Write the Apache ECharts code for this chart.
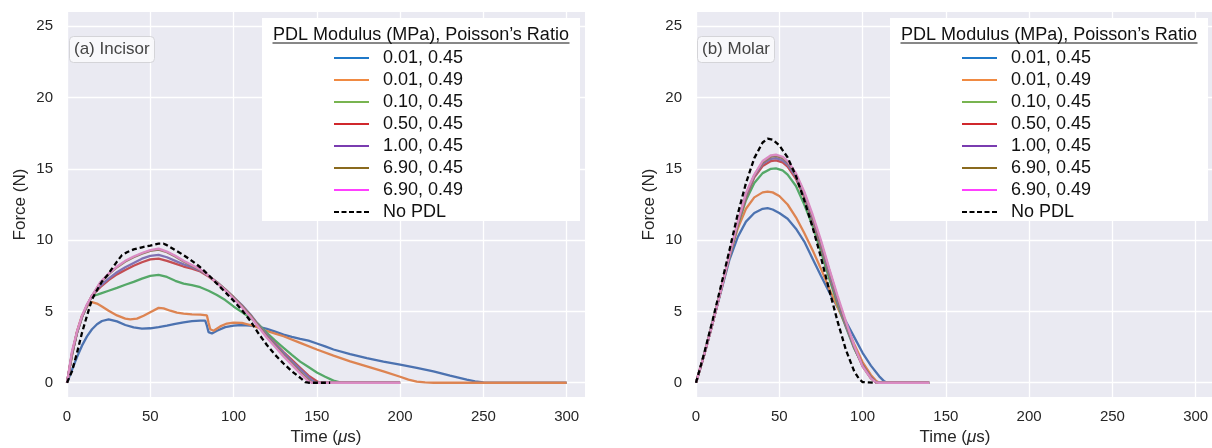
<!DOCTYPE html>
<html>
<head>
<meta charset="utf-8">
<script src="https://cdn.jsdelivr.net/npm/echarts@6/dist/echarts.min.js"></script>
<style>html,body{margin:0;padding:0;background:#fff}#c{width:1212px;height:448px}</style>
</head>
<body>
<div id="c"></div>
<script>
// ---------- data ----------
const seriesNames = ['0.01, 0.45','0.01, 0.49','0.10, 0.45','0.50, 0.45','1.00, 0.45','6.90, 0.45','6.90, 0.49','No PDL'];
const xTicks = [0,50,100,150,200,250,300];
const yTicks = [0,5,10,15,20,25];
const panelLabels = ['(a) Incisor','(b) Molar'];
const legendTitle = 'PDL Modulus (MPa), Poisson\u2019s Ratio';

// Incisor (time in µs, force in N)
const incisor_001_045 = [[0,0],[3,0.9],[6,1.8],[9,2.6],[12,3.25],[15,3.75],[18,4.1],[21,4.33],[25,4.45],[30,4.3],[35,4.05],[40,3.88],[45,3.8],[50,3.82],[55,3.9],[60,4.0],[65,4.12],[70,4.24],[75,4.32],[80,4.36],[83,4.36],[84,4.0],[85,3.55],[87,3.45],[90,3.65],[95,3.9],[100,4.0],[105,4.05],[110,4.0],[115,3.92],[120,3.78],[125,3.58],[130,3.38],[135,3.22],[140,3.08],[145,2.95],[150,2.75],[155,2.55],[160,2.33],[170,2.0],[180,1.72],[190,1.48],[200,1.27],[210,1.05],[220,0.8],[230,0.5],[240,0.22],[245,0.1],[250,0.03],[255,0],[300,0]];
const incisor_001_049 = [[0,0],[3,1.9],[6,3.6],[9,4.7],[12,5.35],[15,5.65],[18,5.55],[21,5.35],[25,5.05],[30,4.72],[35,4.5],[38,4.44],[42,4.5],[46,4.7],[50,4.95],[55,5.25],[58,5.22],[62,5.05],[66,4.92],[70,4.85],[75,4.8],[80,4.77],[84,4.72],[85,4.2],[86,3.75],[88,3.65],[92,3.95],[96,4.15],[100,4.22],[105,4.2],[110,4.05],[113,3.95],[118,3.7],[125,3.45],[130,3.26],[140,2.8],[150,2.33],[160,1.9],[170,1.5],[180,1.15],[190,0.8],[200,0.42],[205,0.22],[210,0.08],[215,0.02],[220,0],[300,0]];
const incisor_010_045 = [[0,0],[3,2.0],[6,3.5],[9,4.6],[12,5.4],[15,6.05],[20,6.25],[25,6.45],[30,6.65],[35,6.87],[40,7.07],[45,7.3],[50,7.5],[55,7.57],[60,7.42],[65,7.15],[70,6.95],[75,6.85],[80,6.7],[85,6.45],[90,6.15],[95,5.8],[100,5.35],[105,4.95],[110,4.55],[115,4.1],[120,3.5],[125,2.95],[130,2.45],[135,1.95],[140,1.48],[145,1.1],[150,0.72],[155,0.42],[160,0.15],[165,0],[200,0]];
const incisor_050_045 = [[0,0],[3,2.0],[6,3.5],[9,4.6],[12,5.4],[15,6.1],[20,6.7],[25,7.2],[30,7.6],[35,7.9],[40,8.2],[45,8.45],[50,8.65],[55,8.7],[60,8.55],[65,8.35],[70,8.15],[75,8.0],[80,7.8],[85,7.45],[90,7.0],[95,6.5],[100,5.95],[105,5.4],[110,4.75],[115,4.0],[120,3.35],[125,2.75],[130,2.15],[135,1.6],[140,1.05],[145,0.5],[150,0.1],[152,0],[200,0]];
const incisor_100_045 = [[0,0],[3,2.0],[6,3.5],[9,4.6],[12,5.4],[15,6.1],[20,6.8],[25,7.3],[30,7.75],[35,8.1],[40,8.4],[45,8.7],[50,8.9],[55,8.97],[60,8.8],[65,8.55],[70,8.3],[75,8.1],[80,7.85],[85,7.5],[90,7.05],[95,6.55],[100,6.0],[105,5.45],[110,4.8],[115,4.05],[120,3.35],[125,2.7],[130,2.1],[135,1.5],[140,0.95],[145,0.4],[148,0.1],[150,0],[200,0]];
const incisor_690_045 = [[0,0],[3,2.1],[6,3.55],[9,4.65],[12,5.45],[15,6.1],[20,7.0],[25,7.6],[30,8.1],[35,8.5],[40,8.8],[45,9.05],[50,9.25],[55,9.33],[60,9.15],[65,8.85],[70,8.5],[75,8.2],[80,7.9],[85,7.5],[90,7.05],[95,6.55],[100,6.0],[105,5.4],[110,4.75],[115,4.0],[120,3.25],[125,2.6],[130,1.95],[135,1.35],[140,0.75],[145,0.2],[147,0],[200,0]];
const incisor_690_049 = [[0,0],[3,2.2],[6,3.6],[9,4.7],[12,5.5],[15,6.1],[20,7.05],[25,7.65],[30,8.15],[35,8.55],[40,8.85],[45,9.1],[50,9.3],[55,9.4],[60,9.2],[65,8.9],[70,8.55],[75,8.25],[80,7.95],[85,7.5],[90,7.0],[95,6.5],[100,5.9],[105,5.3],[110,4.65],[115,3.9],[120,3.15],[125,2.5],[130,1.85],[135,1.25],[140,0.65],[145,0.1],[147,0],[200,0]];
const incisor_noPDL = [[0,0],[3,0.8],[6,2.1],[9,3.5],[12,4.7],[15,5.85],[18,6.5],[21,7.1],[24,7.5],[27,8.0],[30,8.5],[33,8.95],[36,9.15],[40,9.35],[45,9.5],[50,9.62],[55,9.75],[58,9.75],[60,9.65],[65,9.3],[70,8.95],[75,8.55],[80,8.1],[85,7.55],[90,6.95],[95,6.35],[100,5.75],[105,5.1],[110,4.35],[115,3.45],[120,2.65],[125,1.95],[130,1.35],[135,0.8],[140,0.35],[143,0.05],[145,0],[158,0]];

// Molar
const molar_001_045 = [[0,0],[5,2.0],[10,4.2],[15,6.4],[20,8.6],[25,10.2],[30,11.3],[35,11.9],[40,12.2],[43,12.24],[46,12.15],[50,11.9],[55,11.5],[60,10.8],[65,9.9],[70,8.7],[75,7.5],[80,6.35],[85,5.3],[90,4.3],[95,3.2],[100,2.1],[105,1.2],[110,0.45],[113,0.1],[115,0],[140,0]];
const molar_001_049 = [[0,0],[5,2.0],[10,4.2],[15,6.5],[20,8.8],[25,10.8],[30,12.2],[35,13.0],[40,13.35],[43,13.4],[46,13.35],[50,13.1],[55,12.5],[60,11.6],[65,10.5],[70,9.3],[75,8.0],[80,6.6],[85,5.3],[90,4.0],[95,2.7],[100,1.45],[105,0.55],[108,0.15],[110,0],[140,0]];
const molar_010_045 = [[0,0],[5,2.0],[10,4.2],[15,6.5],[20,8.8],[25,11.0],[30,12.8],[35,14.0],[40,14.7],[45,15.0],[48,15.03],[52,14.9],[55,14.6],[60,13.8],[65,12.5],[70,11.0],[75,9.2],[80,7.3],[85,5.5],[90,3.9],[95,2.4],[100,1.25],[105,0.4],[108,0.05],[110,0],[140,0]];
const molar_050_045 = [[0,0],[5,2.0],[10,4.2],[15,6.5],[20,8.85],[25,11.1],[30,13.0],[35,14.4],[40,15.2],[45,15.55],[48,15.6],[52,15.45],[55,15.15],[60,14.3],[65,13.0],[70,11.4],[75,9.6],[80,7.6],[85,5.7],[90,4.0],[95,2.5],[100,1.25],[105,0.4],[108,0.05],[110,0],[140,0]];
const molar_100_045 = [[0,0],[5,2.0],[10,4.2],[15,6.5],[20,8.85],[25,11.15],[30,13.1],[35,14.5],[40,15.35],[45,15.7],[48,15.75],[52,15.6],[55,15.3],[60,14.45],[65,13.15],[70,11.5],[75,9.7],[80,7.7],[85,5.75],[90,4.0],[95,2.45],[100,1.2],[105,0.35],[108,0.05],[110,0],[140,0]];
const molar_690_045 = [[0,0],[5,2.0],[10,4.2],[15,6.5],[20,8.9],[25,11.2],[30,13.2],[35,14.55],[40,15.45],[45,15.85],[48,15.9],[52,15.75],[55,15.45],[60,14.6],[65,13.3],[70,11.65],[75,9.85],[80,7.9],[85,5.95],[90,4.15],[95,2.5],[100,1.15],[105,0.3],[108,0.03],[110,0],[140,0]];
const molar_690_049 = [[0,0],[5,2.0],[10,4.2],[15,6.5],[20,8.9],[25,11.25],[30,13.3],[35,14.6],[40,15.55],[45,15.95],[48,16.0],[52,15.85],[55,15.55],[60,14.7],[65,13.4],[70,11.8],[75,10.0],[80,8.0],[85,6.1],[90,4.3],[95,2.6],[100,1.15],[105,0.3],[108,0.03],[110,0],[140,0]];
const molar_noPDL = [[0,0],[5,2.1],[10,4.4],[15,6.8],[20,9.25],[25,11.8],[30,14.0],[35,15.75],[40,16.85],[43,17.12],[46,17.05],[50,16.65],[55,15.8],[60,14.5],[65,12.8],[70,10.9],[75,8.8],[80,6.5],[85,4.3],[90,2.3],[95,0.8],[98,0.25],[100,0.05],[101,0],[108,0]];

const incisorData = [incisor_001_045, incisor_001_049, incisor_010_045, incisor_050_045, incisor_100_045, incisor_690_045, incisor_690_049, incisor_noPDL];
const molarData = [molar_001_045, molar_001_049, molar_010_045, molar_050_045, molar_100_045, molar_690_045, molar_690_049, molar_noPDL];

// ---------- styles ----------
const lineColors = ['#4C72B0','#DD8452','#55A868','#C44E52','#8172B3','#937860','#DA8BC3','#000000'];
const legendColors = ['#1f78c8','#f08a42','#78b450','#d0282c','#7a3cb0','#8a6a1e','#ff40ff','#000000'];
const FONT = '"Liberation Sans", Arial, Helvetica, sans-serif';
const TXT = '#262626';
const grids = [
  {left: 67, top: 12, width: 518, height: 385},
  {left: 696, top: 12, width: 518, height: 385}
];

const chart = echarts.init(document.getElementById('c'), null, {renderer: 'canvas'});

const series = [];
[incisorData, molarData].forEach((set, gi) => {
  set.forEach((d, i) => {
    const dashed = i === 7;
    series.push({
      type: 'line', name: seriesNames[i], data: d,
      xAxisIndex: gi, yAxisIndex: gi,
      symbol: 'none', showSymbol: false, smooth: false, animation: false,
      lineStyle: {color: lineColors[i], width: 2.3, type: dashed ? [5, 3] : 'solid'},
      itemStyle: {color: lineColors[i]},
      z: dashed ? 4 : 3
    });
  });
});

function xAxis(gi) {
  return {
    gridIndex: gi, type: 'value', min: 0, max: 311,
    axisLine: {show: false}, axisTick: {show: false, customValues: xTicks},
    axisLabel: {customValues: xTicks, fontSize: 15, color: TXT, fontFamily: FONT, margin: 12},
    splitLine: {show: true, lineStyle: {color: '#ffffff', width: 1.3}},
    name: 'Time ({i|\u03bc}s)', nameLocation: 'middle', nameGap: 31,
    nameTextStyle: {fontSize: 17, color: TXT, fontFamily: FONT,
      rich: {i: {fontStyle: 'italic', fontSize: 17, color: TXT, fontFamily: FONT}}}
  };
}
function yAxis(gi) {
  return {
    gridIndex: gi, type: 'value', min: -1, max: 26,
    axisLine: {show: false}, axisTick: {show: false, customValues: yTicks},
    axisLabel: {customValues: yTicks, fontSize: 15, color: TXT, fontFamily: FONT, margin: 14},
    splitLine: {show: true, lineStyle: {color: '#ffffff', width: 1.3}},
    name: 'Force (N)', nameLocation: 'middle', nameGap: 38,
    nameTextStyle: {fontSize: 17, color: TXT, fontFamily: FONT}
  };
}

function legend(left) {
  return {
    orient: 'vertical', left: left, top: 47, itemWidth: 35, itemHeight: 14, itemGap: 0,
    selectedMode: false, z: 10, padding: 0,
    textStyle: {fontSize: 18, fontFamily: FONT, color: '#111', lineHeight: 22, padding: [0, 0, 0, 9]},
    data: seriesNames.map((n, i) => ({
      name: n,
      itemStyle: {color: 'rgba(0,0,0,0)', borderColor: 'rgba(0,0,0,0)', borderWidth: 0, opacity: 0},
      lineStyle: {color: legendColors[i], width: 2, opacity: 1, type: i === 7 ? [5, 2.5] : 'solid'}
    }))
  };
}

function legendBox(x, cx) {
  return [
    {type: 'rect', z: 6, shape: {x: x, y: 18, width: 318, height: 203}, style: {fill: '#ffffff'}},
    {type: 'text', z: 7, style: {text: legendTitle, x: cx, y: 35, textAlign: 'center', textVerticalAlign: 'middle',
      font: '18px ' + FONT, fill: '#111'}},
    {type: 'line', z: 7, shape: {x1: cx - 148.5, y1: 43, x2: cx + 148.5, y2: 43}, style: {stroke: '#111', lineWidth: 1}}
  ];
}

function panelTitle(text, left) {
  return {
    text: text, left: left, top: 36, padding: [4, 5],
    backgroundColor: 'rgba(250,250,252,0.9)', borderColor: '#d4d4d8', borderWidth: 1, borderRadius: 4,
    textStyle: {fontSize: 17, fontWeight: 'normal', color: '#444', fontFamily: FONT, lineHeight: 19}
  };
}

chart.setOption({
  animation: false,
  backgroundColor: '#ffffff',
  title: [panelTitle(panelLabels[0], 69), panelTitle(panelLabels[1], 697)],
  grid: grids.map(g => Object.assign({show: true, backgroundColor: '#EAEAF2', borderWidth: 0, containLabel: false, outerBoundsMode: 'none'}, g)),
  xAxis: [xAxis(0), xAxis(1)],
  yAxis: [yAxis(0), yAxis(1)],
  legend: [legend(333), legend(961)],
  graphic: [].concat(legendBox(262, 421), legendBox(890, 1049)),
  series: series
});
</script>
</body>
</html>
